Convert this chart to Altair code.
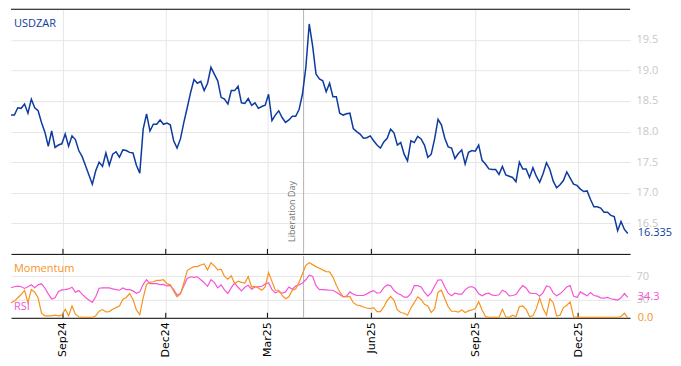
import altair as alt
import pandas as pd

# ---------------- data ----------------
start_date = "2024-07-17"
step_days = 3

usdzar = [
    18.27, 18.27, 18.39, 18.38, 18.45, 18.30, 18.53, 18.39, 18.34, 18.15,
    17.99, 17.76, 18.01, 17.74, 17.78, 17.80, 17.96, 17.76, 17.93, 17.87,
    17.69, 17.59, 17.44, 17.29, 17.14, 17.36, 17.50, 17.43, 17.65, 17.45,
    17.63, 17.67, 17.58, 17.70, 17.69, 17.66, 17.65, 17.45, 17.32, 18.04,
    18.29, 18.01, 18.12, 18.12, 18.19, 18.12, 18.14, 18.11, 17.85, 17.73,
    17.88, 18.15, 18.39, 18.64, 18.85, 18.79, 18.82, 18.67, 18.79, 19.05,
    18.94, 18.83, 18.56, 18.53, 18.45, 18.67, 18.67, 18.74, 18.47, 18.46,
    18.54, 18.43, 18.47, 18.38, 18.41, 18.43, 18.61, 18.18, 18.27, 18.34,
    18.23, 18.15, 18.19, 18.25, 18.25, 18.36, 18.61, 19.05, 19.76, 19.40,
    18.94, 18.86, 18.83, 18.65, 18.79, 18.57, 18.57, 18.30, 18.27, 18.29,
    18.30, 18.05, 18.00, 17.96, 17.89, 17.90, 17.93, 17.85, 17.78, 17.73,
    17.83, 17.89, 18.04, 17.98, 17.78, 17.82, 17.63, 17.52, 17.85, 17.82,
    17.92, 17.88, 17.78, 17.58, 17.63, 17.88, 18.20, 18.11, 17.89, 17.75,
    17.73, 17.56, 17.64, 17.70, 17.47, 17.66, 17.69, 17.68, 17.78, 17.53,
    17.47, 17.39, 17.38, 17.38, 17.30, 17.43, 17.29, 17.27, 17.25, 17.18,
    17.50, 17.39, 17.39, 17.25, 17.41, 17.27, 17.17, 17.31, 17.49, 17.38,
    17.19, 17.08, 17.13, 17.20, 17.34, 17.24, 17.14, 17.12, 17.06, 17.02,
    17.03, 16.89, 16.77, 16.77, 16.75, 16.68, 16.68, 16.63, 16.61, 16.38,
    16.53, 16.40, 16.335,
]

momentum = [
    25.4, 28.1, 33.6, 39.1, 46.3, 25.4, 47.4, 43.0, 33.6, 7.7,
    3.3, 3.3, 3.3, 4.4, 3.3, 4.4, 14.3, 3.3, 19.9, 6.1,
    1.7, 0.6, 0.6, 0.6, 0.6, 3.3, 11.0, 13.8, 9.9, 10.5,
    14.3, 17.1, 19.9, 30.9, 34.2, 40.8, 30.9, 13.2, 5.5, 33.6,
    56.2, 59.5, 60.6, 62.8, 62.8, 63.9, 57.3, 55.7, 44.6, 35.3,
    40.2, 58.4, 79.4, 83.2, 86.0, 86.0, 88.7, 90.4, 80.5, 92.6,
    87.1, 80.5, 81.6, 69.4, 65.0, 70.5, 57.3, 61.7, 59.5, 58.4,
    69.4, 51.8, 52.9, 50.2, 46.3, 51.8, 76.0, 61.2, 46.3, 46.3,
    37.5, 32.0, 35.3, 46.3, 48.5, 59.5, 73.9, 88.2, 92.6, 89.3,
    86.0, 83.2, 80.5, 77.7, 77.2, 68.3, 54.6, 43.5, 35.8, 35.3,
    35.8, 25.4, 21.5, 20.4, 18.2, 16.5, 15.4, 17.1, 10.5, 10.5,
    18.2, 29.2, 35.8, 29.8, 13.2, 8.8, 7.7, 4.4, 16.5, 25.4,
    35.3, 30.9, 22.6, 19.9, 8.8, 15.4, 43.0, 46.3, 32.0, 18.8,
    11.0, 11.0, 9.4, 13.2, 8.8, 11.6, 13.2, 15.4, 27.0, 13.2,
    2.2, 0.6, 0.6, 0.6, 0.6, 14.3, 1.7, 0.6, 4.4, 1.7,
    18.8, 19.9, 14.3, 2.2, 3.3, 15.4, 33.1, 15.4, 4.4, 32.0,
    25.4, 2.8, 4.4, 17.1, 21.0, 26.5, 1.7, 1.1, 0.6, 0.6,
    0.6, 0.6, 0.6, 0.6, 0.6, 0.6, 0.6, 0.6, 0.6, 0.6,
    2.2, 7.7, 0.0,
]

rsi = [
    50.4, 52.1, 53.2, 52.1, 49.3, 52.1, 55.4, 50.4, 55.4, 57.1,
    50.1, 40.2, 31.4, 33.6, 44.1, 46.9, 47.4, 48.5, 51.3, 43.0,
    45.7, 39.7, 34.2, 29.8, 25.9, 35.3, 49.6, 50.2, 50.2, 50.2,
    48.5, 47.4, 46.3, 50.2, 47.4, 47.4, 45.2, 41.3, 43.5, 56.2,
    63.9, 57.3, 57.3, 57.3, 55.7, 56.2, 53.5, 54.6, 47.4, 38.0,
    40.8, 54.0, 66.1, 68.9, 67.8, 68.9, 63.9, 59.0, 52.9, 63.9,
    59.5, 50.2, 55.1, 46.9, 40.8, 50.7, 58.4, 51.3, 45.2, 51.3,
    54.6, 48.0, 51.8, 51.8, 52.9, 56.8, 59.0, 47.4, 41.9, 44.1,
    41.3, 43.5, 51.8, 48.0, 53.5, 55.1, 58.4, 63.9, 71.6, 69.4,
    54.0, 47.4, 47.4, 46.9, 46.3, 46.3, 43.0, 39.1, 35.3, 36.4,
    43.5, 39.7, 37.5, 37.5, 37.5, 40.2, 43.5, 45.7, 41.3, 42.4,
    50.7, 55.1, 54.0, 45.7, 41.3, 38.6, 34.7, 34.7, 40.8, 54.0,
    54.0, 51.8, 43.0, 36.4, 42.4, 53.5, 63.4, 63.9, 51.8, 41.3,
    36.9, 41.3, 39.7, 39.7, 46.9, 51.3, 52.4, 49.1, 40.2, 36.9,
    40.2, 41.3, 38.0, 37.5, 38.6, 46.3, 43.5, 36.9, 37.5, 39.1,
    47.4, 54.0, 50.2, 41.9, 40.8, 40.8, 36.4, 42.4, 53.5, 51.8,
    41.9, 36.9, 40.2, 45.7, 51.8, 54.0, 36.4, 34.2, 43.5, 40.2,
    36.9, 42.4, 37.5, 36.4, 33.6, 33.1, 34.2, 32.0, 30.9, 29.8,
    33.6, 40.8, 34.3,
]

tick_months = [(2024, 9), (2024, 12), (2025, 3), (2025, 6), (2025, 9), (2025, 12)]
event_date = "2025-04-02"
event_label = "Liberation Day"
price_ticks = [16.5, 17.0, 17.5, 18.0, 18.5, 19.0, 19.5]
osc_ticks = [30, 70]
x_start = (2024, 7, 17)
x_end = (2026, 1, 16)

# ---------------- styling ----------------
BLUE = "#0d3c9e"
ORANGE = "#f7931e"
PINK = "#f555d7"
GRID = "#e6e6e6"
AXIS_LABEL = "#c8c8c8"
FONT = "Open Sans"
W = 620
H_TOP = 245
H_BOT = 62

dates = pd.date_range(start_date, periods=len(usdzar), freq=f"{step_days}D")
df = pd.DataFrame({"date": dates, "usdzar": usdzar, "momentum": momentum, "rsi": rsi})

tick_vals = [alt.DateTime(year=y, month=m, date=1) for y, m in tick_months]
xdom = [alt.DateTime(year=x_start[0], month=x_start[1], date=x_start[2]),
        alt.DateTime(year=x_end[0], month=x_end[1], date=x_end[2])]
tick_df = pd.DataFrame({"date": [pd.Timestamp(y, m, 1) for y, m in tick_months]})
event_df = pd.DataFrame({"date": [pd.Timestamp(event_date)], "label": [event_label]})

last = df.iloc[[-1]].copy()
last["price_label"] = f"{usdzar[-1]:.3f}"
last["rsi_label"] = f"{rsi[-1]:.1f}"
last["mom_label"] = f"{momentum[-1]:.1f}"

dummy = pd.DataFrame({"t": ["USDZAR"]})


def x_enc(show_labels):
    return alt.X(
        "date:T", title=None, scale=alt.Scale(domain=xdom),
        axis=alt.Axis(values=tick_vals, format="%b%y", labels=show_labels,
                      labelAngle=270, labelFont="DejaVu Sans", labelFontSize=11,
                      labelColor="black", labelPadding=4, ticks=False,
                      domain=True, domainColor="black", domainWidth=1,
                      grid=True, gridColor=GRID, gridWidth=1),
    )


# ---------------- top panel ----------------
xt = x_enc(False)
y_price = alt.Y(
    "usdzar:Q", title=None,
    scale=alt.Scale(domain=[16, 20], nice=False, zero=False),
    axis=alt.Axis(orient="right", values=price_ticks, format=".1f",
                  labelColor=AXIS_LABEL, labelFont=FONT, labelFontSize=11,
                  labelPadding=6, ticks=False, domain=False,
                  grid=True, gridColor=GRID),
)

top = alt.layer(
    alt.Chart(event_df).mark_rule(color="#b4b4b4", strokeWidth=1).encode(x=xt),
    alt.Chart(event_df).mark_text(angle=270, align="left", baseline="bottom", dy=-7,
                                  fontSize=9, font=FONT, color="#707070")
    .encode(x=xt, y=alt.value(H_TOP - 12), text="label:N"),
    alt.Chart(tick_df).mark_rule(color="black", strokeWidth=1)
    .encode(x=xt, y=alt.value(H_TOP - 5), y2=alt.value(H_TOP)),
    alt.Chart(dummy).mark_rule(color="black", strokeWidth=1)
    .encode(x=alt.value(0), x2=alt.value(W), y=alt.value(0)),
    alt.Chart(df).mark_line(color=BLUE, strokeWidth=1.5).encode(x=xt, y=y_price),
    alt.Chart(last).mark_text(align="left", dx=10, fontSize=11, font=FONT, color=BLUE)
    .encode(x=xt, y=y_price, text="price_label:N"),
    alt.Chart(dummy).mark_text(align="left", baseline="middle", fontSize=11, font=FONT, color=BLUE)
    .encode(x=alt.value(3), y=alt.value(15), text="t:N"),
).properties(width=W, height=H_TOP)

# ---------------- bottom panel ----------------
xb = x_enc(True)


def y_osc(field):
    return alt.Y(
        field, title=None,
        scale=alt.Scale(domain=[0, 104], nice=False, zero=False),
        axis=alt.Axis(orient="right", values=osc_ticks, format="d",
                      labelColor=AXIS_LABEL, labelFont=FONT, labelFontSize=11,
                      labelPadding=6, ticks=False, domain=False,
                      grid=True, gridColor=GRID),
    )


names = pd.DataFrame({"m": ["Momentum"], "r": ["RSI"]})

bottom = alt.layer(
    alt.Chart(event_df).mark_rule(color="#b4b4b4", strokeWidth=1).encode(x=xb),
    alt.Chart(tick_df).mark_rule(color="black", strokeWidth=1)
    .encode(x=xb, y=alt.value(H_BOT - 5), y2=alt.value(H_BOT)),
    alt.Chart(df).mark_line(color=PINK, strokeWidth=1.2).encode(x=xb, y=y_osc("rsi:Q")),
    alt.Chart(df).mark_line(color=ORANGE, strokeWidth=1.2).encode(x=xb, y=y_osc("momentum:Q")),
    alt.Chart(last).mark_text(align="left", dx=10, fontSize=11, font=FONT, color=PINK)
    .encode(x=xb, y=y_osc("rsi:Q"), text="rsi_label:N"),
    alt.Chart(last).mark_text(align="left", dx=10, fontSize=11, font=FONT, color=ORANGE)
    .encode(x=xb, y=y_osc("momentum:Q"), text="mom_label:N"),
    alt.Chart(names).mark_text(align="left", baseline="middle", fontSize=11, font=FONT, color=ORANGE)
    .encode(x=alt.value(3), y=alt.value(13), text="m:N"),
    alt.Chart(names).mark_text(align="left", baseline="middle", fontSize=11, font=FONT, color=PINK)
    .encode(x=alt.value(3), y=alt.value(51), text="r:N"),
).properties(width=W, height=H_BOT)

chart = alt.vconcat(top, bottom, spacing=0).configure_view(stroke=None).properties(
    padding={"left": 0, "top": 0, "right": 0, "bottom": 0},
    background="white",
)

chart.save("out.html", embed_options={"renderer": "svg", "actions": False})
